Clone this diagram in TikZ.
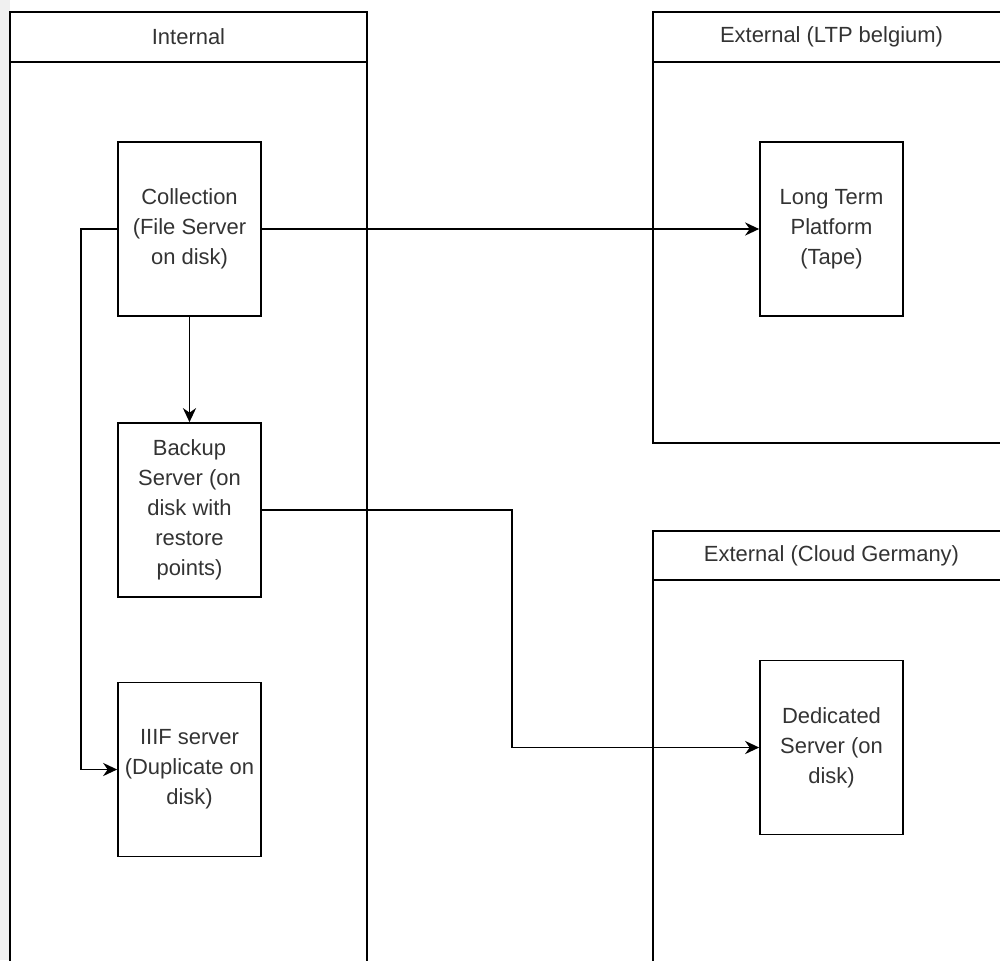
\documentclass[tikz,border=0pt]{standalone}
\usepackage{fontspec}
\setmainfont{Liberation Sans}
\usetikzlibrary{arrows.meta}
\definecolor{txtgrey}{HTML}{333333}
\begin{document}
\begin{tikzpicture}[x=0.02cm,y=-0.02cm,
    lane/.style={draw,line width=1pt,minimum width=7.14cm,inner sep=0pt,outer sep=0pt,
        font=\fontsize{12.5}{17}\selectfont,text=txtgrey},
    item/.style={draw,line width=1pt,minimum width=2.86cm,minimum height=3.48cm,
        align=center,font=\fontsize{12.5}{17}\selectfont,text=txtgrey},
    flow/.style={-{Stealth[length=8pt,width=7.5pt]},line width=1pt}]
    \useasboundingbox (0,0) rectangle (1000,960);
    \clip (0,0) rectangle (1000,960);
    \fill[gray!12] (0,0) rectangle (10,960);

    \node[lane,minimum height=1cm] (inthead) at (188.5,37) {Internal};
    \node[lane,minimum height=18.6cm,anchor=north] (intbody) at (inthead.south) {};

    \node[lane,minimum height=1cm] (ltphead) at (831.5,37) {External (LTP belgium)};
    \node[lane,minimum height=7.62cm,anchor=north] (ltpbody) at (ltphead.south) {};

    \node[lane,minimum height=0.98cm] (cloudhead) at (831.5,555.5) {External (Cloud Germany)};
    \node[lane,minimum height=8cm,anchor=north] (cloudbody) at (cloudhead.south) {};

    \node[item] (coll) at (189.5,229) {Collection\\(File Server\\on disk)};
    \node[item] (backup) at (189.5,510) {Backup\\Server (on\\disk with\\restore\\points)};
    \node[item] (iiif) at (189.5,769.5) {IIIF server\\(Duplicate on\\disk)};
    \node[item] (ltp) at (831.5,229) {Long Term\\Platform\\(Tape)};
    \node[item] (ded) at (831.5,747.5) {Dedicated\\Server (on\\disk)};

    \draw[flow] (coll) -- (ltp);
    \draw[flow] (coll) -- (backup);
    \draw[flow] (coll.west) -- ++(-36,0) |- (iiif.west);
    \draw[flow] (backup.east) -- ++(250,0) |- (ded.west);
\end{tikzpicture}
\end{document}
